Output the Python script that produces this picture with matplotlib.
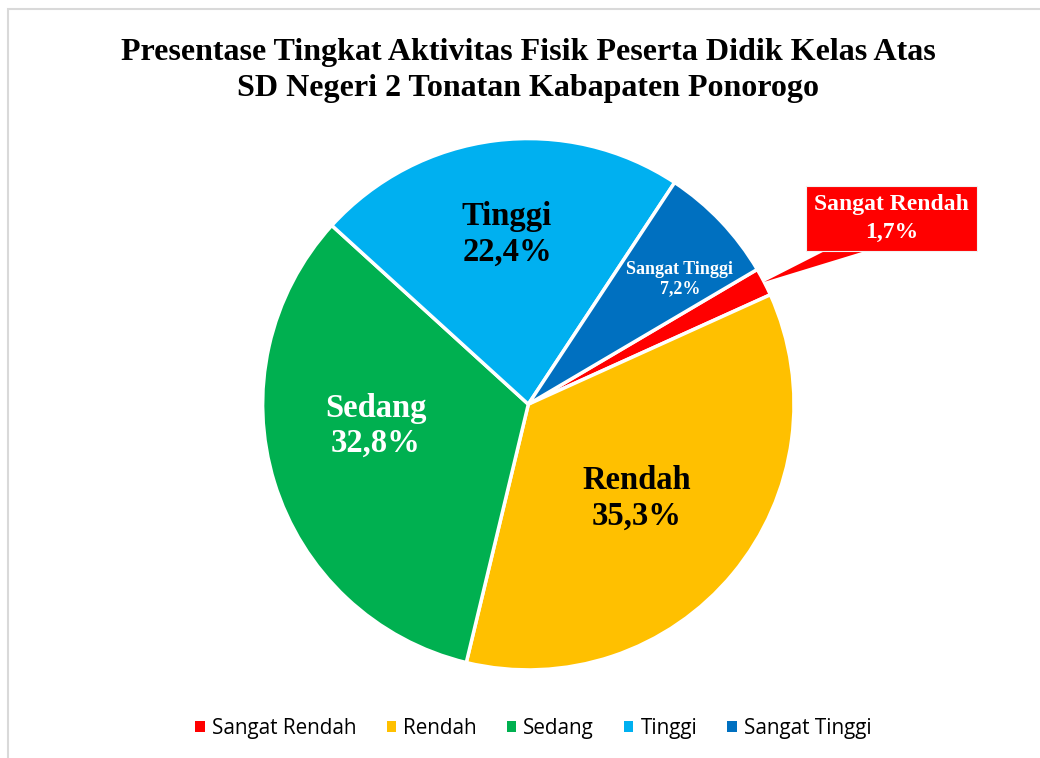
import numpy as np
import matplotlib
matplotlib.use('Agg')
import matplotlib.pyplot as plt
from matplotlib.patches import Patch, Polygon, Rectangle

categories = ['Sangat Rendah', 'Rendah', 'Sedang', 'Tinggi', 'Sangat Tinggi']
values = [1.7, 35.3, 32.8, 22.4, 7.2]
value_labels = ['1,7%', '35,3%', '32,8%', '22,4%', '7,2%']
colors = ['#FF0000', '#FFC000', '#00B050', '#00B0F0', '#0070C0']

title = 'Presentase Tingkat Aktivitas Fisik Peserta Didik Kelas Atas\nSD Negeri 2 Tonatan Kabapaten Ponorogo'

serif = 'Liberation Serif'

fig = plt.figure(figsize=(10.4, 7.58), dpi=100)
# light frame of the chart area
fig.patches.append(Rectangle((8 / 1040, -0.1), 1.2, 1.1 - 9 / 758,
                             transform=fig.transFigure, fill=False,
                             ec='#D9D9D9', lw=1.5))

ax = fig.add_axes([0.2525, 0.1162, 0.511, 0.701])
wedges, _ = ax.pie(values, colors=colors, startangle=30.5, counterclock=False,
                   radius=1.0, wedgeprops=dict(edgecolor='white', linewidth=2.5))
ax.set_xlim(-1, 1)
ax.set_ylim(-1, 1)

fig.text(0.508, 0.907, title, ha='center', va='center', fontsize=23,
         fontweight='bold', family=serif, linespacing=1.36)

# label placement: radial distance and angular shift from wedge middle
label_r = [None, 0.54, 0.58, 0.645, 0.74]
label_shift = [0, -1.3, -9, 0.0, -4]
label_size = [None, 23.5, 23.5, 23.5, 13]
label_color = [None, 'black', 'white', 'black', 'white']
label_ls = [None, 1.18, 1.16, 1.18, 1.2]

for i, w in enumerate(wedges):
    mid = np.deg2rad((w.theta1 + w.theta2) / 2)
    if i == 0:
        continue
    a = mid + np.deg2rad(label_shift[i])
    x, y = label_r[i] * np.cos(a), label_r[i] * np.sin(a)
    ax.text(x, y, categories[i] + '\n' + value_labels[i], ha='center', va='center',
            fontsize=label_size[i], fontweight='bold', color=label_color[i],
            family=serif, linespacing=label_ls[i])

# callout for the smallest slice
w = wedges[0]
mid = np.deg2rad((w.theta1 + w.theta2) / 2)
tip = (np.cos(mid) * 1.0, np.sin(mid) * 1.0)
bx, by = 1.367, 0.699
ax.text(bx, by, categories[0] + '\n' + value_labels[0], ha='center', va='center',
        fontsize=17, fontweight='bold', color='white', family=serif,
        linespacing=1.45, clip_on=False,
        bbox=dict(boxstyle='square,pad=0.34', fc=colors[0], ec='#F2F2F2', lw=0.8))
ax.add_patch(Polygon([(1.142, 0.59), (1.311, 0.59), tip], closed=True,
                     fc=colors[0], ec='none', clip_on=False))

handles = [Patch(facecolor=c, edgecolor='none') for c in colors]
fig.legend(handles, categories, loc='center', bbox_to_anchor=(0.513, 0.039),
           ncol=5, frameon=False, handlelength=0.45,
           handleheight=0.45, handletextpad=0.35, columnspacing=1.45,
           prop={'family': 'Open Sans', 'size': 14.9})

fig.savefig('out.png', dpi=100)
